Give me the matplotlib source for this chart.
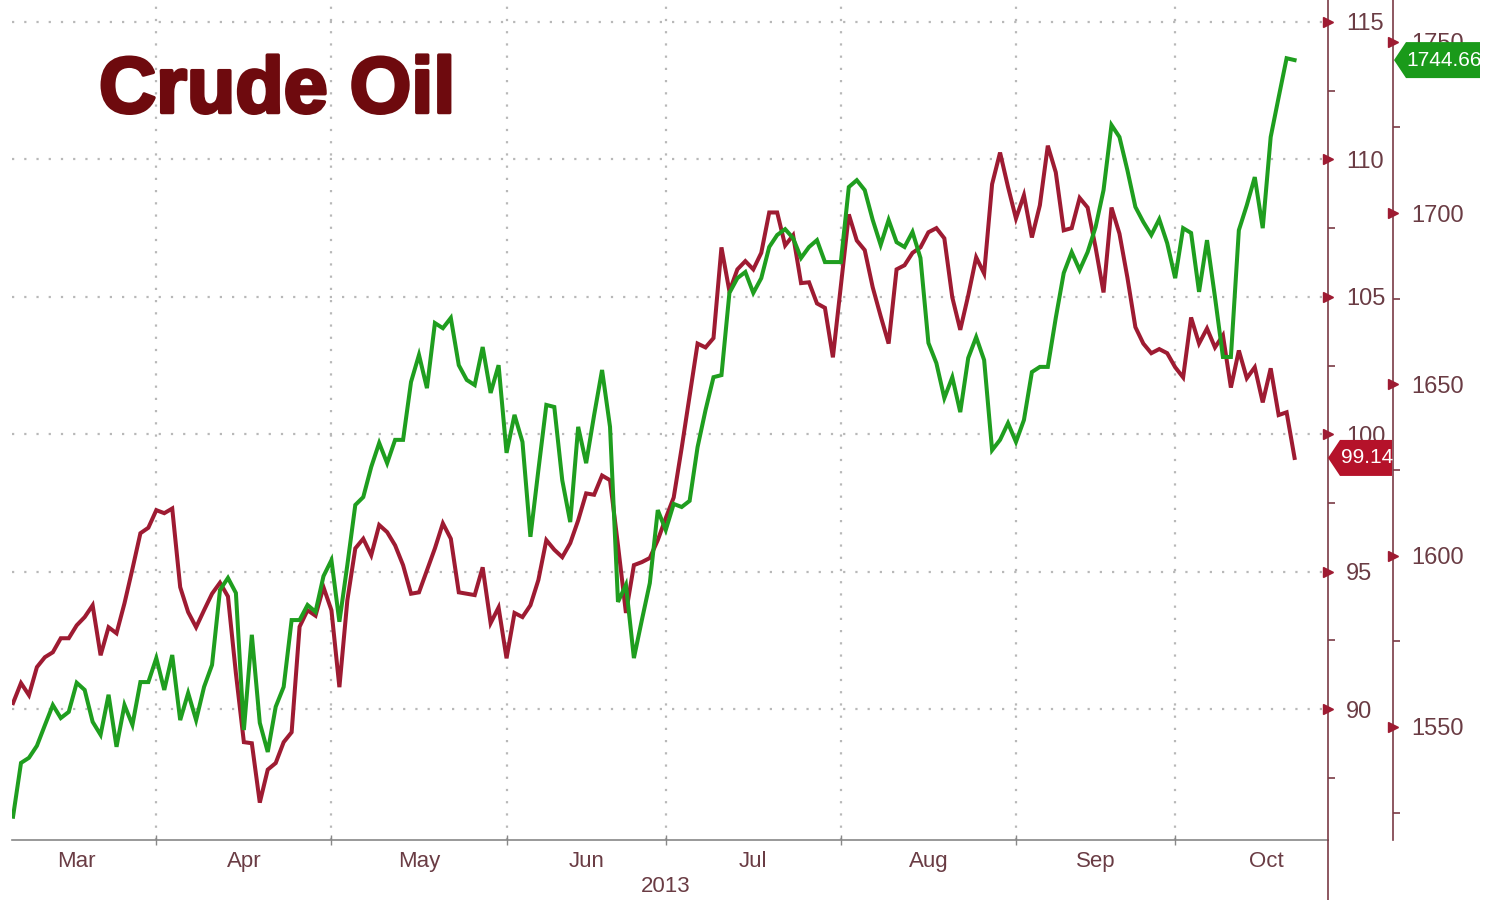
import numpy as np
import matplotlib
matplotlib.use("Agg")
import matplotlib.pyplot as plt
from matplotlib.patches import Polygon
from matplotlib.lines import Line2D
import matplotlib.transforms as mtransforms
import matplotlib.patheffects as pe

# daily closes, one per trading day, early Mar 2013 -> Oct 22 2013
crude = [90.22, 90.95, 90.51, 91.53, 91.89, 92.07, 92.58, 92.58, 93.05, 93.35,
         93.78, 91.96, 92.98, 92.76, 93.85, 95.1, 96.4, 96.6, 97.24, 97.13,
         97.3, 94.44, 93.53, 92.98, 93.6, 94.2, 94.6, 94.1, 91.3, 88.8,
         88.76, 86.6, 87.8, 88.04, 88.8, 89.16, 93.0, 93.6, 93.4, 94.44,
         93.6, 90.8, 93.96, 95.85, 96.2, 95.6, 96.7, 96.44, 95.96, 95.24,
         94.2, 94.25, 95.05, 95.85, 96.76, 96.2, 94.25, 94.2, 94.15, 95.16,
         93.13, 93.7, 91.85, 93.5, 93.35, 93.78, 94.7, 96.15, 95.8, 95.53,
         96.04, 96.87, 97.85, 97.8, 98.5, 98.33, 95.96, 93.5, 95.24, 95.35,
         95.5, 96.15, 96.95, 97.7, 99.5, 101.4, 103.3, 103.16, 103.5, 106.8,
         105.2, 106.0, 106.3, 106.0, 106.6, 108.07, 108.07, 106.87, 107.24, 105.5,
         105.53, 104.76, 104.6, 102.8, 105.4, 108.0, 107.05, 106.7, 105.35, 104.3,
         103.3, 106.0, 106.15, 106.6, 106.8, 107.35, 107.5, 107.13, 104.98, 103.8,
         105.05, 106.44, 105.85, 109.1, 110.25, 109.0, 107.85, 108.7, 107.16, 108.33,
         110.5, 109.53, 107.42, 107.5, 108.6, 108.25, 106.8, 105.16, 108.25, 107.3,
         105.7, 103.9, 103.3, 102.95, 103.1, 102.95, 102.44, 102.07, 104.25, 103.3,
         103.85, 103.16, 103.6, 101.7, 103.05, 102.04, 102.44, 101.16, 102.4, 100.7,
         100.8, 99.14]

other = [1523.8, 1539.5, 1541.0, 1544.5, 1550.5, 1556.4, 1552.6, 1554.4, 1562.9, 1560.8,
         1551.5, 1547.7, 1559.4, 1544.2, 1556.4, 1550.6, 1563.1, 1563.1, 1570.1, 1560.8,
         1571.0, 1552.0, 1559.9, 1552.0, 1561.7, 1568.1, 1590.0, 1593.5, 1589.1, 1549.1,
         1576.9, 1551.2, 1542.7, 1555.9, 1561.7, 1581.2, 1581.2, 1585.6, 1583.6, 1594.0,
         1598.7, 1580.7, 1597.3, 1614.8, 1617.1, 1625.9, 1632.9, 1627.0, 1633.8, 1633.8,
         1650.7, 1658.6, 1648.9, 1667.9, 1666.4, 1669.4, 1655.6, 1651.3, 1649.8, 1660.9,
         1647.5, 1655.6, 1630.0, 1641.1, 1633.2, 1605.5, 1625.0, 1644.0, 1643.4, 1622.0,
         1609.8, 1637.6, 1627.0, 1641.0, 1654.2, 1637.6, 1586.5, 1591.5, 1570.1, 1581.2,
         1592.0, 1613.3, 1607.5, 1615.1, 1614.2, 1616.0, 1631.7, 1642.5, 1652.1, 1652.7,
         1676.7, 1681.0, 1682.8, 1676.7, 1681.0, 1690.1, 1693.6, 1695.3, 1692.7, 1686.9,
         1690.1, 1692.1, 1685.7, 1685.7, 1685.7, 1707.6, 1709.6, 1706.7, 1698.0, 1690.7,
         1698.0, 1691.5, 1690.1, 1694.5, 1686.9, 1662.1, 1656.2, 1646.0, 1652.1, 1641.9,
         1657.7, 1663.8, 1657.1, 1630.8, 1633.8, 1638.7, 1633.2, 1639.6, 1653.6, 1655.1,
         1655.1, 1669.4, 1682.5, 1688.6, 1683.4, 1688.6, 1695.9, 1706.7, 1725.7, 1722.2,
         1712.5, 1701.8, 1697.4, 1693.6, 1698.2, 1691.2, 1681.0, 1695.6, 1694.2, 1677.0,
         1692.1, 1675.5, 1658.0, 1658.0, 1695.0, 1702.3, 1710.5, 1695.6, 1722.2, 1733.8,
         1745.2, 1744.66]

months = ["Mar", "Apr", "May", "Jun", "Jul", "Aug", "Sep", "Oct"]
# trading-day index where each month begins (Mar starts before the data)
month_starts = [-2, 18, 40, 62, 82, 104, 126, 146, 169]
crude_ticks = [90, 95, 100, 105, 110, 115]
other_ticks = [1550, 1600, 1650, 1700, 1750]

RED = "#9e1b32"
GREEN = "#1f9e1f"
AXCOL = "#7a3b45"
TXT = "#6a3c44"
GRID = "#b8b8b8"
FAM = ["Liberation Sans", "DejaVu Sans"]

W, H = 1489, 900
fig = plt.figure(figsize=(W / 100, H / 100), dpi=100)
fig.patch.set_facecolor("white")

x0, x1, ybot = 12, 1328, 840
ax = fig.add_axes([x0 / W, 1 - ybot / H, (x1 - x0) / W, ybot / H])
ax2 = ax.twinx()

days = np.arange(len(crude))
ax.plot(days, crude, color=RED, lw=2.9, solid_joinstyle="miter", zorder=3)
ax2.plot(days, other, color=GREEN, lw=2.9, solid_joinstyle="miter", zorder=3)

ax.set_xlim(-0.13, 165.2)
ax.set_ylim(85.24, 115.8)
ax2.set_ylim(1517.0, 1762.2)

# month boundaries -> grid, month centres -> labels
ax.set_xticks(month_starts[1:-1], minor=True)
centres = [(a + b) / 2 for a, b in zip(month_starts[:-1], month_starts[1:])]
ax.set_xticks(centres)
ax.set_xticklabels(months, fontsize=16, color=TXT, family=FAM)
ax.tick_params(axis="x", which="major", length=0, pad=8)
ax.tick_params(axis="x", which="minor", length=7, direction="inout", color="#888888", width=1)
ax.grid(True, axis="x", which="minor", color=GRID, ls=(0, (1, 4.5)), lw=1.6)
ax.text(82, -0.055, "2013", transform=mtransforms.blended_transform_factory(ax.transData, ax.transAxes),
        ha="center", va="center", fontsize=16, color=TXT, family=FAM)

# crude axis on the right
ax.yaxis.tick_right()
ax.set_yticks(crude_ticks)
ax.set_yticks(np.arange(87.5, 115, 5), minor=True)
ax.grid(True, axis="y", which="major", color=GRID, ls=(0, (1, 4.5)), lw=1.6)
ax.tick_params(axis="y", which="major", length=0, pad=13, labelsize=17, labelcolor=TXT)
ax.tick_params(axis="y", which="minor", length=5, width=1.2, color=AXCOL, direction="out")
for lab in ax.get_yticklabels():
    lab.set_family(FAM)

green_pos = (1393 - x0) / (x1 - x0)
ax2.spines["right"].set_position(("axes", green_pos))
ax2.set_yticks(other_ticks)
ax2.set_yticks(np.arange(1525, 1750, 50), minor=True)
ax2.tick_params(axis="y", which="major", length=0, pad=13, labelsize=17, labelcolor=TXT)
ax2.tick_params(axis="y", which="minor", length=5, width=1.2, color=AXCOL, direction="out")
for lab in ax2.get_yticklabels():
    lab.set_family(FAM)

for a in (ax, ax2):
    a.spines["top"].set_visible(False)
    a.spines["left"].set_visible(False)
    a.spines["right"].set_color(AXCOL)
    a.spines["right"].set_linewidth(1.2)
    a.set_facecolor("none")
ax2.spines["bottom"].set_visible(False)
ax.spines["bottom"].set_color("#888888")
ax.spines["bottom"].set_linewidth(1.2)

# triangle markers at the major ticks
trans1 = mtransforms.blended_transform_factory(ax.transAxes, ax.transData)
ax.plot([1.0] * len(crude_ticks), crude_ticks, ls="none", marker=">", ms=7, color=RED,
        transform=trans1, clip_on=False, zorder=5)
trans2 = mtransforms.blended_transform_factory(ax2.transAxes, ax2.transData)
ax2.plot([green_pos] * len(other_ticks), other_ticks, ls="none", marker=">", ms=7, color=RED,
         transform=trans2, clip_on=False, zorder=5)

# red spine continues below the x axis
fig.add_artist(Line2D([x1 / W, x1 / W], [0, 1 - ybot / H], color=AXCOL, lw=1.2))

# last value tags
fig.canvas.draw()


def tag(xpix, ypix, width, text, face):
    pts = [(xpix, ypix), (xpix + 12, ypix + 18), (xpix + width, ypix + 18),
           (xpix + width, ypix - 18), (xpix + 12, ypix - 18)]
    poly = Polygon([(px / W, py / H) for px, py in pts], closed=True, facecolor=face,
                   edgecolor="none", transform=fig.transFigure, zorder=10)
    fig.add_artist(poly)
    t = fig.text((xpix + 7 + width / 2) / W, ypix / H, text,
                 ha="center", va="center", color="white", fontsize=15, family=FAM)
    t.set_zorder(11)


yr = ax.transData.transform((0, crude[-1]))[1]
tag(x1, yr, 64, "99.14", "#b5122a")
yg = ax2.transData.transform((0, other[-1]))[1]
tag(1394, yg, 86, "1744.66", "#1a9a1a")

fig.text(99 / W, 1 - 92 / H, "Crude Oil", ha="left", va="center", fontsize=57,
         fontweight="bold", family="Liberation Sans", color="#6e0a0e",
         path_effects=[pe.Stroke(linewidth=2.5, foreground="#6e0a0e", joinstyle="round"),
                       pe.Normal()])

fig.savefig("out.png", dpi=100)
